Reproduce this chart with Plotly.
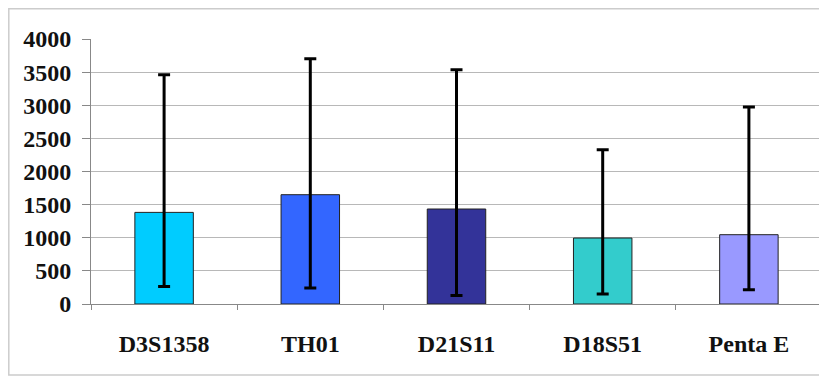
import plotly.graph_objects as go

categories = ["D3S1358", "TH01", "D21S11", "D18S51", "Penta E"]
means = [1383, 1650, 1434, 996, 1046]
err_plus = [2078, 2053, 2103, 1333, 1928]
err_minus = [1117, 1409, 1304, 845, 830]
bar_colors = ["#00CCFF", "#3366FF", "#333399", "#33CCCC", "#9999FF"]
y_ticks = [0, 500, 1000, 1500, 2000, 2500, 3000, 3500, 4000]

OFF = 8  # default page body margin
W, H = 827 - OFF, 377 - OFF
ML, MR, MT, MB = 91 - OFF, 5, 39 - OFF, 73
pw = W - ML - MR
ph = H - MT - MB

FAM = "Liberation Serif"
tfont = dict(family=FAM, size=24, color="#111111", weight="bold")


def px_x(p):
    return (p - OFF - ML) / pw


def px_y(p):
    return (H - MB - (p - OFF)) / ph


fig = go.Figure(go.Bar(
    x=categories,
    y=means,
    width=0.4,
    marker=dict(color=bar_colors, line=dict(color="#222222", width=1)),
    error_y=dict(type="data", symmetric=False, array=err_plus, arrayminus=err_minus,
                 color="#000000", thickness=3, width=6),
))

fig.update_layout(
    width=W, height=H,
    margin=dict(l=ML, r=MR, t=MT, b=MB),
    paper_bgcolor="white", plot_bgcolor="white",
    showlegend=False,
    font=dict(family=FAM, size=24, color="#111111"),
    xaxis=dict(
        showgrid=False, showline=True, linecolor="#888888", linewidth=1,
        ticks="outside", tickson="boundaries", ticklen=5, tickcolor="#888888",
        tickfont=tfont,
        ticklabelstandoff=18,
    ),
    yaxis=dict(
        range=[0, 4000], tickvals=y_ticks,
        showgrid=True, gridcolor="#b8b8b8", gridwidth=1,
        showline=True, linecolor="#888888", linewidth=1,
        ticks="outside", ticklen=8, tickcolor="#888888",
        tickfont=tfont,
        ticklabelstandoff=6,
        zeroline=False,
    ),
    shapes=[dict(
        type="rect", xref="paper", yref="paper",
        x0=px_x(8.8), x1=px_x(824), y0=px_y(375), y1=px_y(8.8),
        line=dict(color="#cccccc", width=1.5), layer="below",
    )],
)

fig.write_html("out.html")
